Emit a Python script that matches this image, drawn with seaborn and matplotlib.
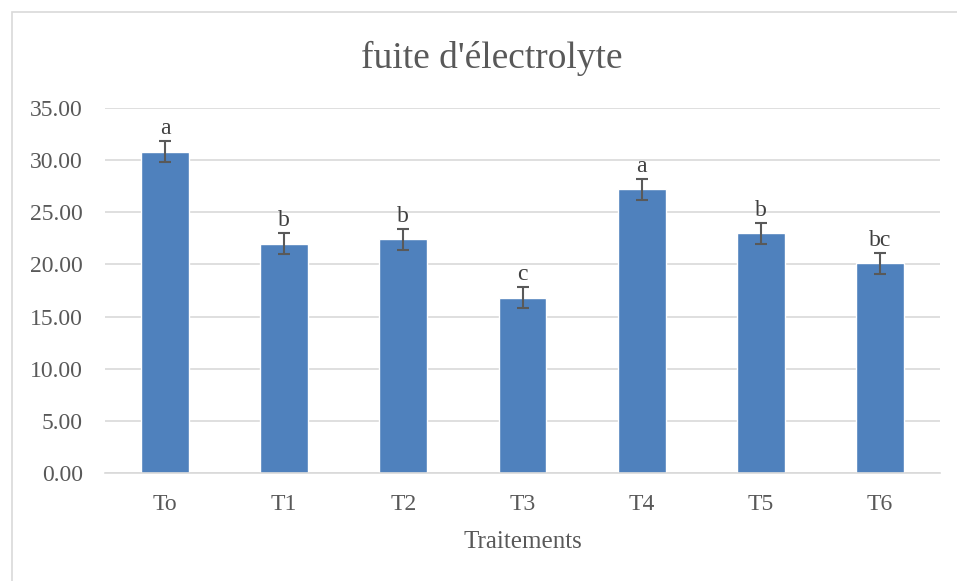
import pandas as pd
import matplotlib.pyplot as plt
import seaborn as sns
from matplotlib.patches import Rectangle
from matplotlib.ticker import FormatStrFormatter

# --- data ---
treatments = ["To", "T1", "T2", "T3", "T4", "T5", "T6"]
leakage = [30.8, 22.0, 22.4, 16.8, 27.2, 23.0, 20.1]
errors = [1.0, 1.0, 1.0, 1.0, 1.0, 1.0, 1.0]
letters = ["a", "b", "b", "c", "a", "b", "bc"]

df = pd.DataFrame({"Traitement": treatments, "Fuite": leakage})

# --- styling ---
sns.set_theme(style="white")
plt.rcParams["font.family"] = ["Liberation Serif", "DejaVu Serif"]
txt_color = "#595959"

fig = plt.figure(figsize=(9.57, 5.81), dpi=100)
ax = fig.add_axes([0.110, 0.186, 0.872, 0.628])

sns.barplot(data=df, x="Traitement", y="Fuite", color="#4F81BD",
            width=0.40, saturation=1, ax=ax, errorbar=None)

ax.errorbar(range(len(treatments)), leakage, yerr=errors, fmt="none",
            ecolor=txt_color, elinewidth=1.5, capsize=4.5, capthick=1.5, zorder=3)

for i, (v, e, lab) in enumerate(zip(leakage, errors, letters)):
    ax.text(i, v + e + 0.2, lab, ha="center", va="bottom",
            fontsize=17, color="#404040")

ax.set_ylim(0, 35)
ax.set_yticks(range(0, 36, 5))
ax.yaxis.set_major_formatter(FormatStrFormatter("%.2f"))
ax.set_xlim(-0.5, len(treatments) - 0.5)
ax.grid(axis="y", color="#D9D9D9", linewidth=1.2)
ax.set_axisbelow(True)
for s in ["top", "right", "left"]:
    ax.spines[s].set_visible(False)
ax.spines["bottom"].set_color("#D9D9D9")
ax.spines["bottom"].set_linewidth(1.2)
ax.tick_params(axis="both", length=0, labelsize=17, labelcolor=txt_color)
ax.tick_params(axis="x", pad=15)
ax.tick_params(axis="y", pad=16)

ax.set_xlabel("Traitements", fontsize=18, color=txt_color, labelpad=12)
ax.set_ylabel("")
fig.text(0.514, 0.9, "fuite d'électrolyte", ha="center", va="center",
         fontsize=27, color=txt_color)

# light frame around the chart area
fig.patches.append(Rectangle((0.013, -0.01), 0.99, 0.99, transform=fig.transFigure,
                             fill=False, edgecolor="#D9D9D9", linewidth=1.2))

fig.savefig("out.png", dpi=100)
